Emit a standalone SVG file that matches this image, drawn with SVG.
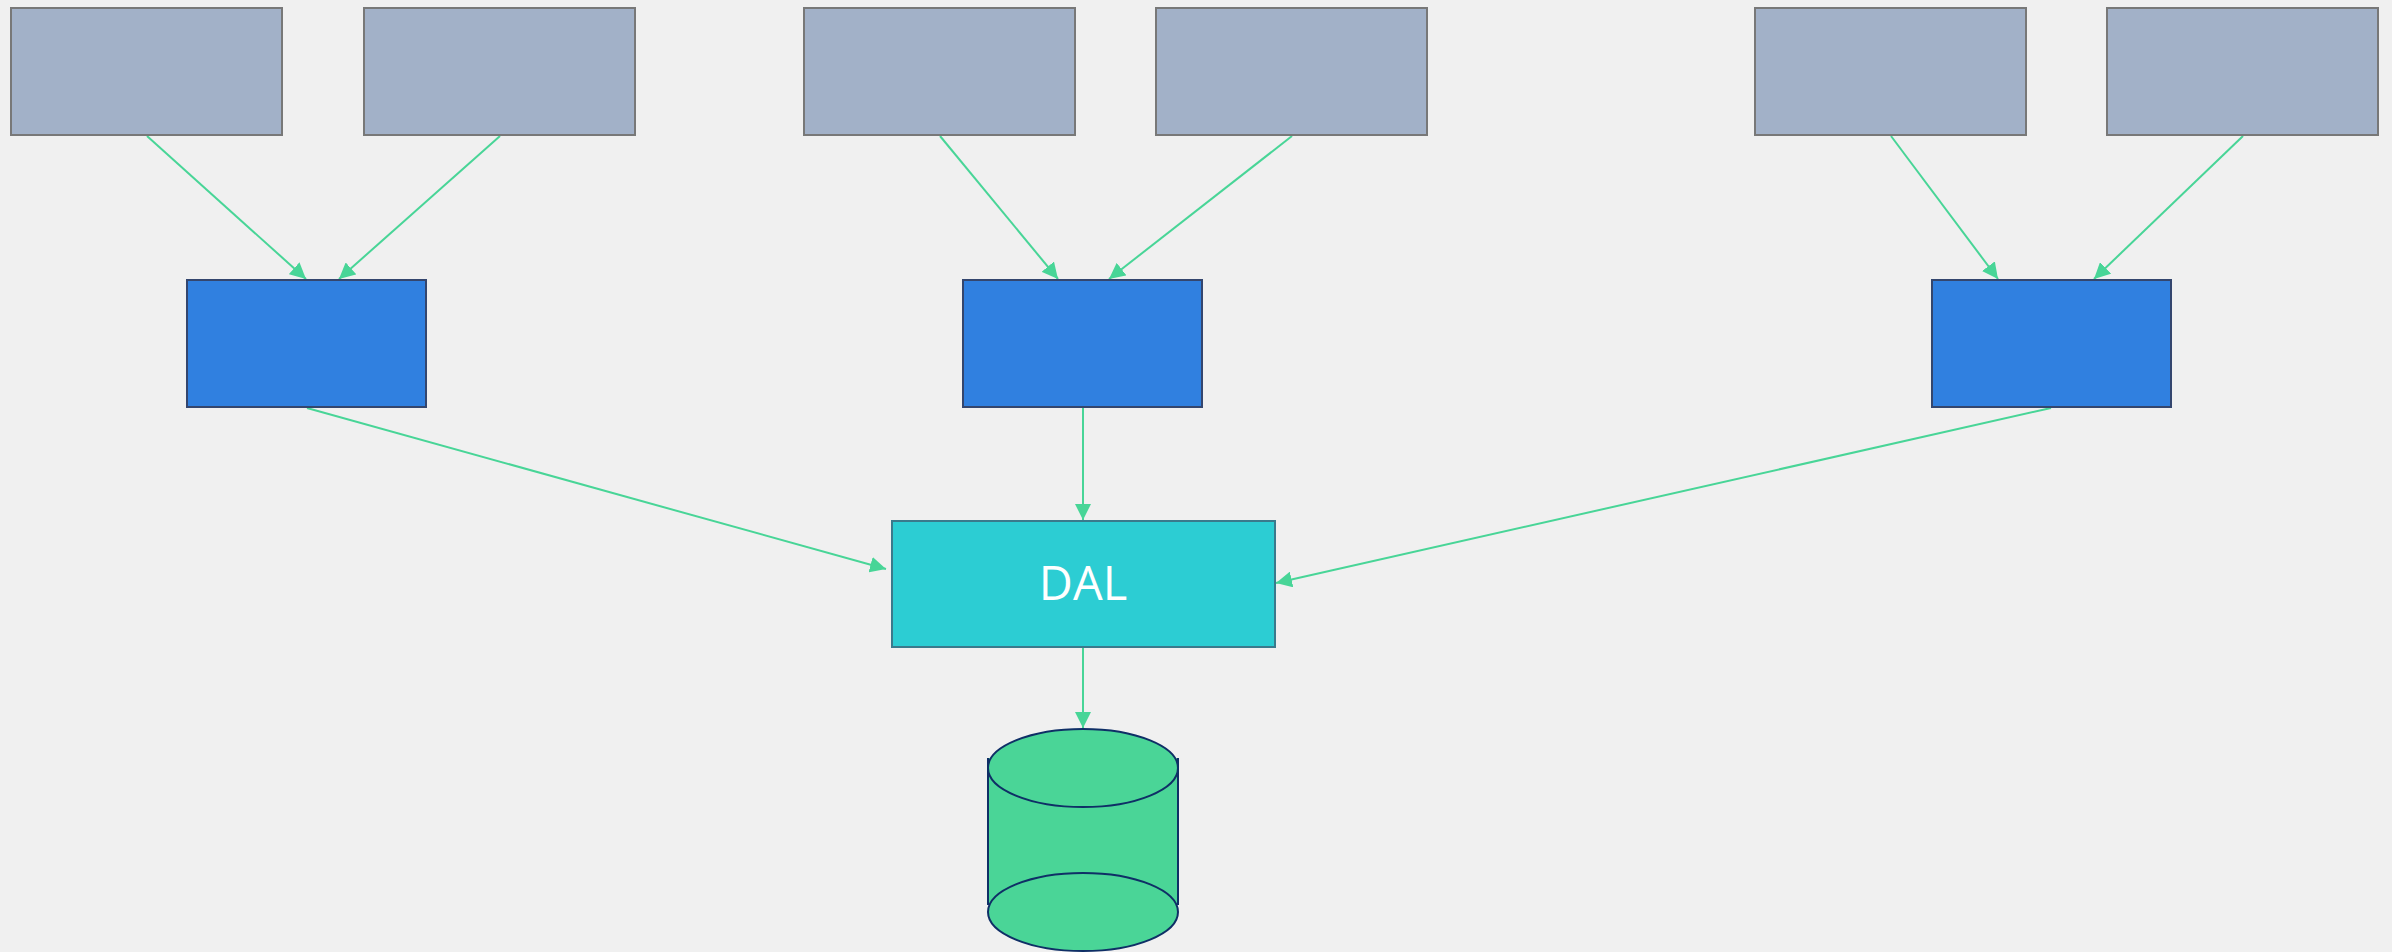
<svg xmlns="http://www.w3.org/2000/svg" width="2392" height="952" viewBox="0 0 2392 952">
  <defs>
    <style>
      .src { fill: #a2b1c8; stroke: #787878; stroke-width: 2; }
      .svc { fill: #3080e0; stroke: #34466e; stroke-width: 2; }
      .dal { fill: #2ccdd3; stroke: #3a7a8c; stroke-width: 2; }
      .db  { fill: #4ad597; stroke: #0f2f66; stroke-width: 2; }
      .edge { fill: none; stroke: #48d597; stroke-width: 2; marker-end: url(#arrow); }
      .label { font-family: "Open Sans", "Liberation Sans", sans-serif; font-size: 47px; fill: #ffffff; text-anchor: middle; }
    </style>
    <marker id="arrow" markerUnits="userSpaceOnUse" markerWidth="16" markerHeight="16" refX="16" refY="8" orient="auto">
      <path d="M0,0 L16,8 L0,16 z" fill="#48d597"/>
    </marker>
  </defs>

  <rect width="2392" height="952" fill="#f0f0f0"/>

  <!-- connectors -->
  <g id="connectors">
    <path class="edge" d="M147,136 L306,279"/>
    <path class="edge" d="M500,136 L339,279"/>
    <path class="edge" d="M940,136 L1058,279"/>
    <path class="edge" d="M1292,136 L1109,279"/>
    <path class="edge" d="M1891,136 L1998,279"/>
    <path class="edge" d="M2243,136 L2094,279"/>
    <path class="edge" d="M307,408 L886,569"/>
    <path class="edge" d="M1083,408 L1083,520"/>
    <path class="edge" d="M2051,408 L1276,583"/>
    <path class="edge" d="M1083,648 L1083,728"/>
  </g>

  <!-- top row sources -->
  <g id="source-1"><rect class="src" x="11" y="8" width="271" height="127"/></g>
  <g id="source-2"><rect class="src" x="364" y="8" width="271" height="127"/></g>
  <g id="source-3"><rect class="src" x="804" y="8" width="271" height="127"/></g>
  <g id="source-4"><rect class="src" x="1156" y="8" width="271" height="127"/></g>
  <g id="source-5"><rect class="src" x="1755" y="8" width="271" height="127"/></g>
  <g id="source-6"><rect class="src" x="2107" y="8" width="271" height="127"/></g>

  <!-- middle row services -->
  <g id="service-1"><rect class="svc" x="187" y="280" width="239" height="127"/></g>
  <g id="service-2"><rect class="svc" x="963" y="280" width="239" height="127"/></g>
  <g id="service-3"><rect class="svc" x="1932" y="280" width="239" height="127"/></g>

  <!-- data access layer -->
  <g id="dal">
    <rect class="dal" x="892" y="521" width="383" height="126"/>
    <text class="label" x="1083" y="600">DAL</text>
  </g>

  <!-- database cylinder -->
  <g id="database">
    <rect x="987" y="758" width="192" height="147" fill="#4ad597"/>
    <line x1="988" y1="758" x2="988" y2="905" stroke="#0f2f66" stroke-width="2"/>
    <line x1="1178" y1="758" x2="1178" y2="905" stroke="#0f2f66" stroke-width="2"/>
    <ellipse class="db" cx="1083" cy="912" rx="95" ry="39"/>
    <ellipse class="db" cx="1083" cy="768" rx="95" ry="39"/>
  </g>
</svg>
